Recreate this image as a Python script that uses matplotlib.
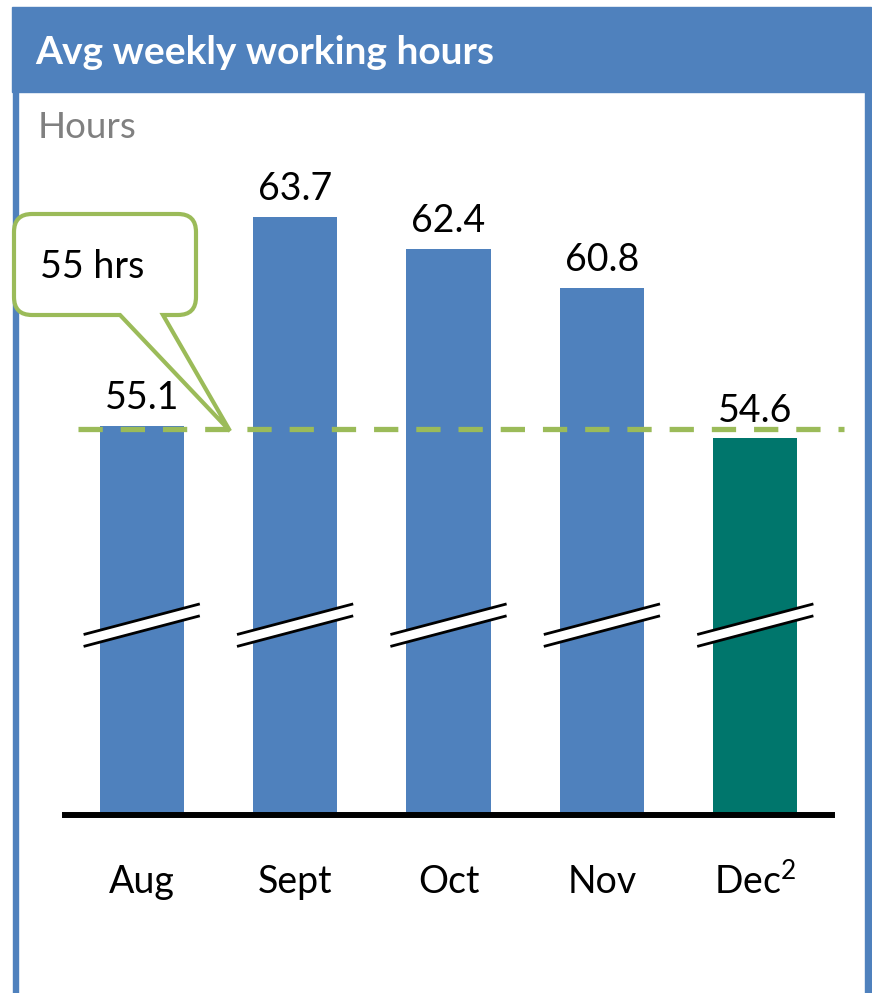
import matplotlib
matplotlib.use("Agg")
import matplotlib.pyplot as plt
from matplotlib.patches import Rectangle, PathPatch
from matplotlib.path import Path
from matplotlib.lines import Line2D

months = ["Aug", "Sept", "Oct", "Nov", "Dec$^\\mathregular{2}$"]
hours = [55.1, 63.7, 62.4, 60.8, 54.6]
bar_colors = ["#4F81BD", "#4F81BD", "#4F81BD", "#4F81BD", "#00766C"]
target = 55
target_label = "55 hrs"
title = "Avg weekly working hours"
unit_label = "Hours"

FONT = "Lato"
plt.rcParams["font.family"] = [FONT, "DejaVu Sans"]
plt.rcParams["mathtext.fontset"] = "custom"
plt.rcParams["mathtext.rm"] = FONT

W, H = 872, 993
fig = plt.figure(figsize=(W / 100, H / 100), dpi=100)
fig.patch.set_facecolor("white")

def fx(x):
    return x / W

def fy(y):
    return 1 - y / H

BLUE = "#4F81BD"
GREEN = "#9BBB59"
FS = 27

# panel borders and title bar
fig.add_artist(Rectangle((fx(13), fy(993)), fx(5), (993 - 90) / H, transform=fig.transFigure, color=BLUE, zorder=0))
fig.add_artist(Rectangle((fx(865), fy(993)), fx(6), (993 - 90) / H, transform=fig.transFigure, color=BLUE, zorder=0))
fig.add_artist(Rectangle((fx(12), fy(92)), fx(859), (92 - 7) / H, transform=fig.transFigure, color=BLUE, zorder=0))
fig.text(fx(35), fy(52), title, color="white", fontsize=28, fontweight="bold", va="center", ha="left")
fig.text(fx(38), fy(128), unit_label, color="#808080", fontsize=26.5, va="center", ha="left")

# axes
ax_left, ax_right = 65, 832
ax_bottom, ax_top = 815, 150
ax = fig.add_axes([fx(ax_left), fy(ax_bottom), (ax_right - ax_left) / W, (ax_bottom - ax_top) / H])
ax.set_facecolor("none")
x = list(range(len(months)))
bars = ax.bar(x, hours, width=0.55, color=bar_colors, zorder=2)
ax.set_xlim(-0.5, 4.5)
ax.set_ylim(39.1, 66.46)
for s in ["top", "left", "right"]:
    ax.spines[s].set_visible(False)
ax.spines["bottom"].set_linewidth(4.3)
ax.spines["bottom"].set_color("black")
ax.spines["bottom"].set_zorder(5)
ax.set_yticks([])
ax.set_xticks([])

for xi, v, m in zip(x, hours, months):
    ax.annotate(f"{v:.1f}", (xi, v), xytext=(0, 12), textcoords="offset points",
                ha="center", va="baseline", fontsize=FS)
    ax.annotate(m, (xi, 39.1), xytext=(0, -48), textcoords="offset points",
                ha="center", va="center", fontsize=FS, annotation_clip=False)

# target dashed line
ax.add_line(Line2D([-0.417, 4.58], [target, target], color=GREEN, lw=3.8,
                   dashes=(4.6, 3.4), clip_on=False, zorder=3))

# axis break marks
for xi in x:
    x0, x1 = xi - 0.37, xi + 0.37
    ya0, ya1 = 46.54, 47.77
    off = 0.49
    ax.fill([x0, x1, x1, x0], [ya0, ya1, ya1 - off, ya0 - off], color="white", zorder=4, clip_on=False)
    ax.plot([x0, x1], [ya0, ya1], color="black", lw=2, zorder=4, clip_on=False)
    ax.plot([x0, x1], [ya0 - off, ya1 - off], color="black", lw=2, zorder=4, clip_on=False)

# callout box
r = 18
L, R, T, B = 14, 196, 214, 315
tip = (230, 431)
pts = [
    ((L + r, T), Path.MOVETO),
    ((R - r, T), Path.LINETO),
    ((R, T), Path.CURVE3), ((R, T + r), Path.CURVE3),
    ((R, B - r), Path.LINETO),
    ((R, B), Path.CURVE3), ((R - r, B), Path.CURVE3),
    ((163, B), Path.LINETO),
    (tip, Path.LINETO),
    ((120, B), Path.LINETO),
    ((L + r, B), Path.LINETO),
    ((L, B), Path.CURVE3), ((L, B - r), Path.CURVE3),
    ((L, T + r), Path.LINETO),
    ((L, T), Path.CURVE3), ((L + r, T), Path.CURVE3),
    ((L + r, T), Path.CLOSEPOLY),
]
verts = [(fx(p[0]), fy(p[1])) for p, _ in pts]
codes = [c for _, c in pts]
fig.add_artist(PathPatch(Path(verts, codes), transform=fig.transFigure, facecolor="white",
                         edgecolor=GREEN, lw=3.0, zorder=6))
fig.text(fx(40), fy(267), target_label, fontsize=FS, va="center", ha="left", zorder=7)

fig.savefig("out.png", dpi=100)
